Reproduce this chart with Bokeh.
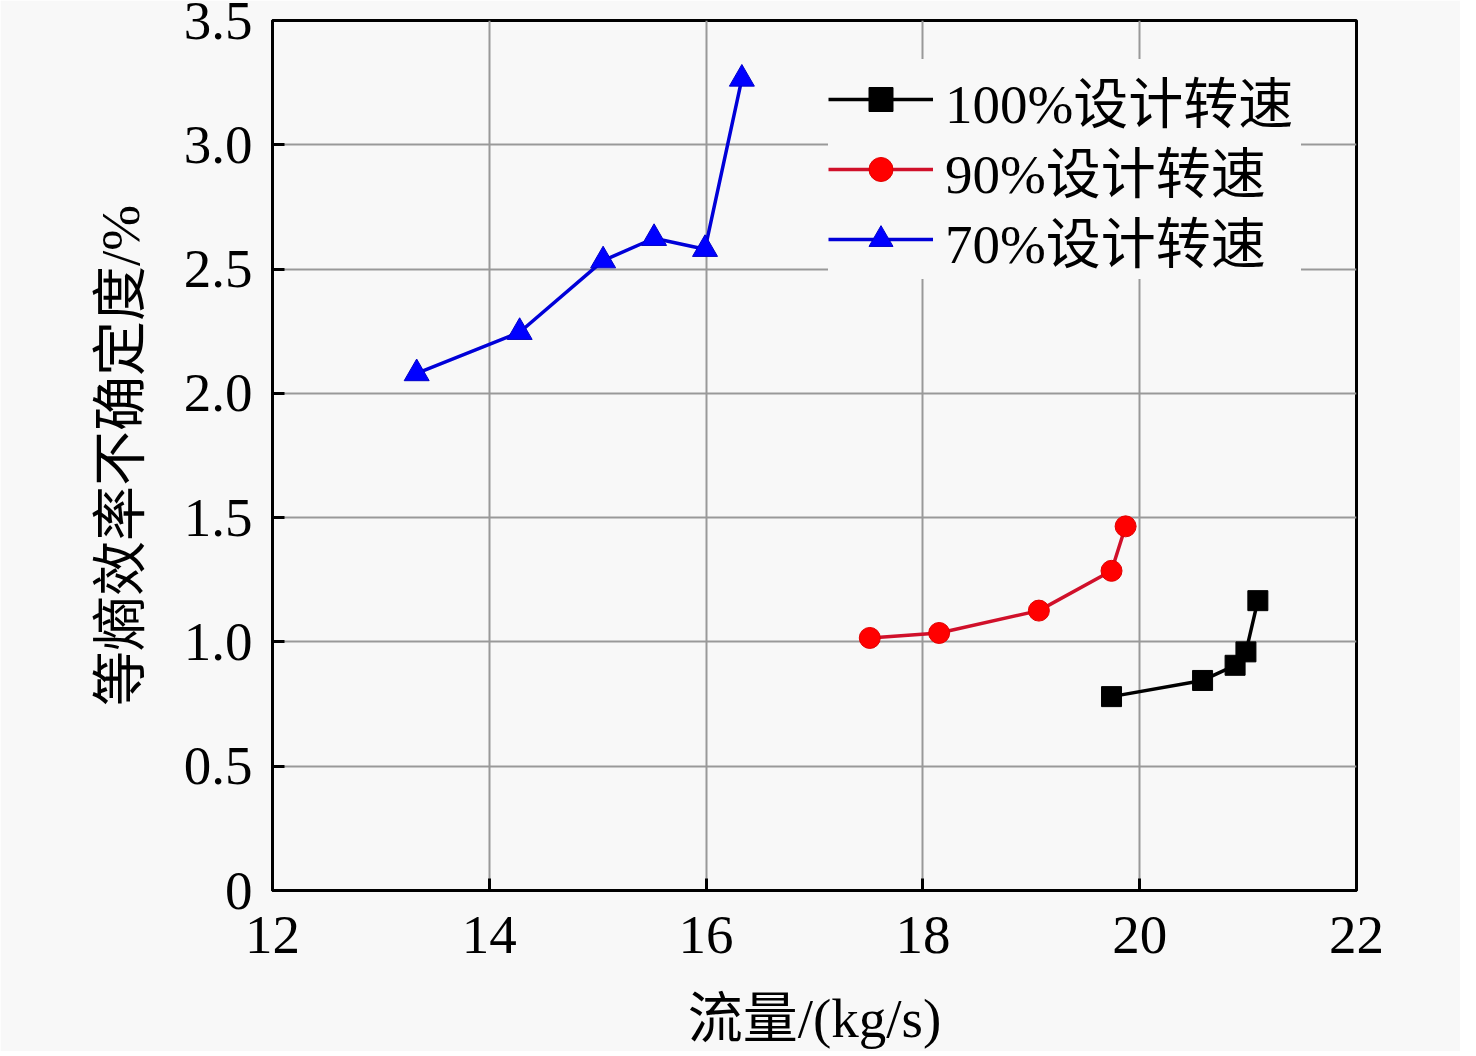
from bokeh.plotting import figure
from bokeh.models import FixedTicker, CustomJSTickFormatter, Range1d, Legend
from bokeh.embed import file_html
from bokeh.resources import INLINE

# data
x100 = [19.74, 20.58, 20.88, 20.98, 21.09]
y100 = [0.78, 0.845, 0.906, 0.96, 1.166]
x90 = [17.51, 18.15, 19.07, 19.74, 19.87]
y90 = [1.016, 1.036, 1.126, 1.286, 1.465]
x70 = [13.33, 14.28, 15.05, 15.52, 15.99, 16.33]
y70 = [2.08, 2.246, 2.534, 2.624, 2.58, 3.265]

labels = ["100%设计转速", "90%设计转速", "70%设计转速"]
x_ticks = [12, 14, 16, 18, 20, 22]
y_ticks = [0, 0.5, 1.0, 1.5, 2.0, 2.5, 3.0, 3.5]
x_title = "流量/(kg/s)"
y_title = "等熵效率不确定度/%"

FONT = "Liberation Serif, Noto Sans CJK SC"
FS = "55px"
BG = "#f8f8f8"

p = figure(frame_width=1084, frame_height=870, output_backend="svg",
           toolbar_location=None, min_border_left=272, min_border_right=104,
           min_border_top=20, min_border_bottom=150,
           x_range=Range1d(12, 22), y_range=Range1d(0, 3.5),
           background_fill_color=BG, border_fill_color=BG)

p.outline_line_color = "black"
p.outline_line_width = 3

p.xaxis.ticker = FixedTicker(ticks=x_ticks)
p.yaxis.ticker = FixedTicker(ticks=y_ticks)
p.yaxis.formatter = CustomJSTickFormatter(code="return tick == 0 ? '0' : tick.toFixed(1);")
p.xaxis.formatter = CustomJSTickFormatter(code="return tick.toFixed(0);")

for ax in (p.xaxis, p.yaxis):
    ax.axis_line_color = "black"
    ax.axis_line_width = 3
    ax.major_tick_in = 12
    ax.major_tick_out = 0
    ax.major_tick_line_width = 3
    ax.minor_tick_line_color = None
    ax.major_label_text_font = FONT
    ax.major_label_text_font_size = FS
    ax.major_label_text_color = "black"
    ax.axis_label_text_font = FONT
    ax.axis_label_text_font_size = FS
    ax.axis_label_text_font_style = "normal"
    ax.axis_label_text_color = "black"

p.xaxis.major_label_standoff = 26
p.yaxis.major_label_standoff = 20
p.xaxis.axis_label = x_title
p.yaxis.axis_label = y_title
p.xaxis.axis_label_standoff = 32
p.yaxis.axis_label_standoff = 30

p.grid.grid_line_color = "#999999"
p.grid.grid_line_width = 2

r1l = p.line(x100, y100, line_color="black", line_width=3.5)
r1m = p.scatter(x100, y100, marker="square", size=20, fill_color="black", line_color="black")
r2l = p.line(x90, y90, line_color="#d0102a", line_width=3.5)
r2m = p.scatter(x90, y90, marker="circle", size=21, fill_color="#ff0000", line_color="#e00000")
r3l = p.line(x70, y70, line_color="#0000d8", line_width=3.5)
r3m = p.scatter(x70, y70, marker="triangle", size=25, fill_color="#0000ff", line_color="#0000c8")

items = [(labels[0], [r1l, r1m]), (labels[1], [r2l, r2m]), (labels[2], [r3l, r3m])]
legend_pos = [(556, 751), (556, 681), (556, 611)]
for item, pos in zip(items, legend_pos):
    lg = Legend(items=[item], location=pos)
    lg.label_text_font = FONT
    lg.label_text_font_size = FS
    lg.label_text_color = "black"
    lg.glyph_width = 105
    lg.glyph_height = 60
    lg.label_height = 60
    lg.label_width = 356
    lg.spacing = 0
    lg.label_standoff = 12
    lg.padding = 4
    lg.margin = 0
    lg.border_line_color = None
    lg.background_fill_color = BG
    lg.background_fill_alpha = 1.0
    p.add_layout(lg)

open("out.html", "w").write(file_html(p, INLINE))
